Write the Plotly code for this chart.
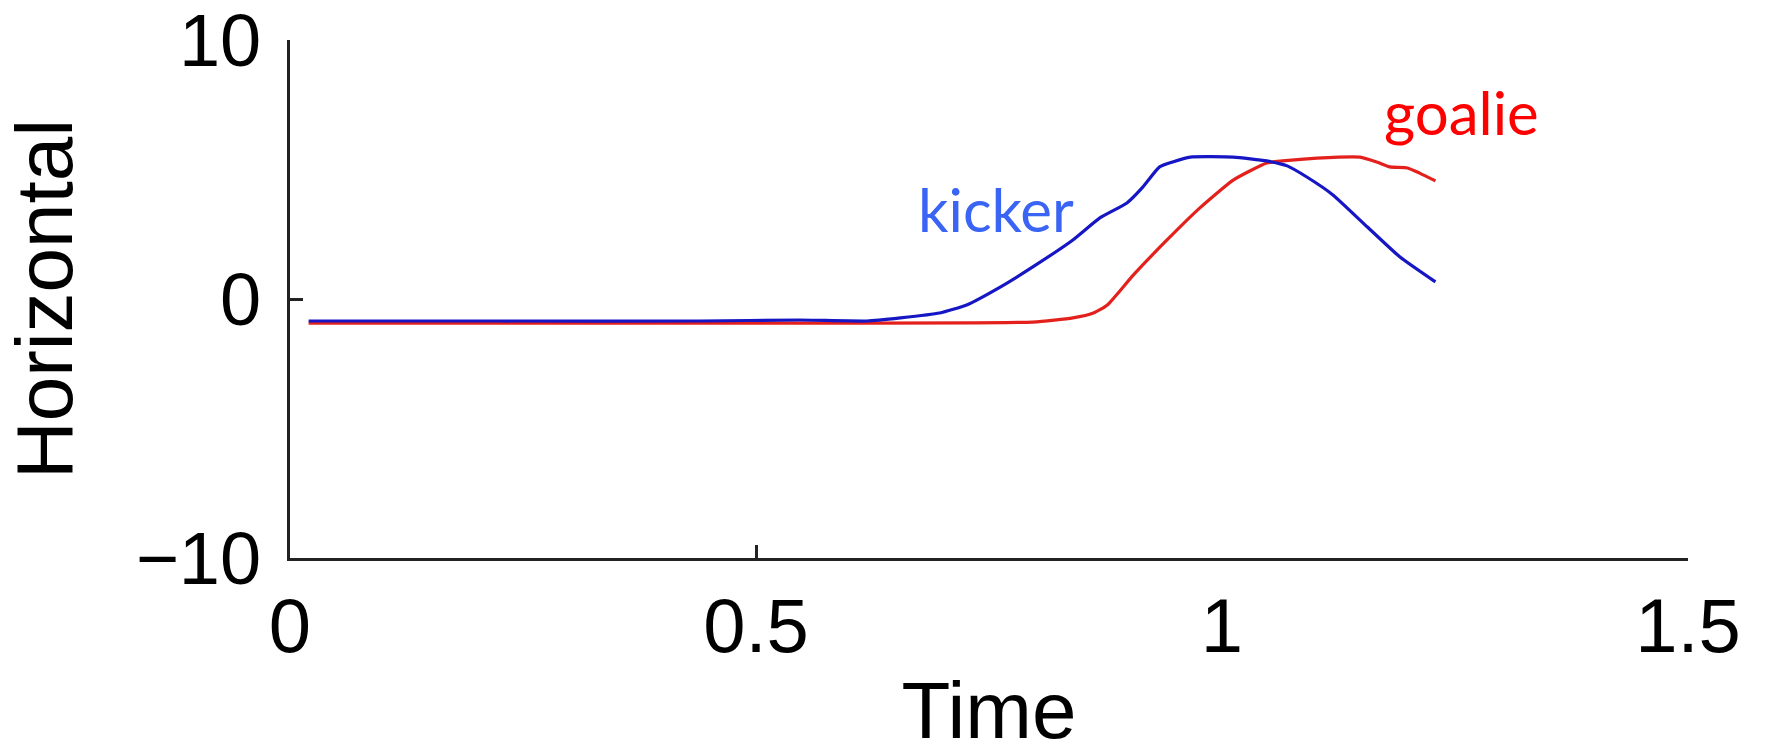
import plotly.graph_objects as go

# Time (s) and horizontal position
kicker_t = [0.020, 0.225, 0.440, 0.547, 0.619, 0.655, 0.697, 0.726, 0.762, 0.797, 0.840,
            0.869, 0.898, 0.915, 0.933, 0.947, 0.966, 1.012, 1.048, 1.070, 1.091, 1.119,
            1.156, 1.191, 1.229]
kicker_y = [-0.85, -0.85, -0.85, -0.81, -0.85, -0.73, -0.54, -0.23, 0.46, 1.24, 2.28,
            3.13, 3.71, 4.32, 5.10, 5.29, 5.48, 5.48, 5.33, 5.14, 4.71, 4.02,
            2.78, 1.62, 0.66]

goalie_t = [0.020, 0.300, 0.547, 0.797, 0.840, 0.862, 0.877, 0.905, 0.941, 0.976, 1.012,
            1.048, 1.065, 1.102, 1.148, 1.166, 1.180, 1.199, 1.212, 1.229]
goalie_y = [-0.93, -0.93, -0.93, -0.89, -0.73, -0.54, -0.23, 0.93, 2.28, 3.51, 4.59,
            5.25, 5.33, 5.44, 5.48, 5.29, 5.10, 5.06, 4.86, 4.56]

x_ticks = [0, 0.5, 1, 1.5]
x_tick_text = ["0", "0.5", "1", "1.5"]
y_ticks = [-10, 0, 10]
y_tick_text = ["\u221210", "0", "10"]

label_kicker = ("kicker", 0.758, 3.47)
label_goalie = ("goalie", 1.257, 7.22)

fig = go.Figure()
fig.add_trace(go.Scatter(x=goalie_t, y=goalie_y, mode="lines",
                         line=dict(color="#e3201c", width=3.2, shape="spline", smoothing=0.5),
                         showlegend=False))
fig.add_trace(go.Scatter(x=kicker_t, y=kicker_y, mode="lines",
                         line=dict(color="#1616c4", width=3.2, shape="spline", smoothing=0.5),
                         showlegend=False))

fig.add_annotation(x=label_kicker[1], y=label_kicker[2], text=label_kicker[0],
                   showarrow=False, font=dict(family="Lato", size=60, color="#3a64f4"))
fig.add_annotation(x=label_goalie[1], y=label_goalie[2], text=label_goalie[0],
                   showarrow=False, font=dict(family="Lato", size=60, color="#ff0000"))

axis_font = "Liberation Sans, Arial, sans-serif"
fig.update_layout(
    width=1765, height=755,
    margin=dict(l=290, r=77, t=40, b=197, autoexpand=False),
    paper_bgcolor="white", plot_bgcolor="white",
    font=dict(family=axis_font, color="black"),
    xaxis=dict(range=[0, 1.5], tickmode="array", tickvals=x_ticks, ticktext=x_tick_text,
               ticks="", showgrid=False, zeroline=False,
               showline=True, linecolor="#222", linewidth=3,
               tickfont=dict(size=76), ticklabelstandoff=0, ticklabeloverflow="allow",
               minor=dict(tickmode="array", tickvals=[0.5], ticks="inside",
                          ticklen=13, tickwidth=3, tickcolor="#222"),
               title=dict(text="Time", font=dict(size=80), standoff=66)),
    yaxis=dict(range=[-10, 10], tickmode="array", tickvals=y_ticks, ticktext=y_tick_text,
               ticks="", showgrid=False, zeroline=False,
               showline=True, linecolor="#222", linewidth=3,
               tickfont=dict(size=74), ticklabelstandoff=11, ticklabeloverflow="allow",
               minor=dict(tickmode="array", tickvals=[0], ticks="inside",
                          ticklen=13, tickwidth=3, tickcolor="#222"),
               title=dict(text="Horizontal", font=dict(size=80), standoff=50)),
)

fig.write_html("out.html")
